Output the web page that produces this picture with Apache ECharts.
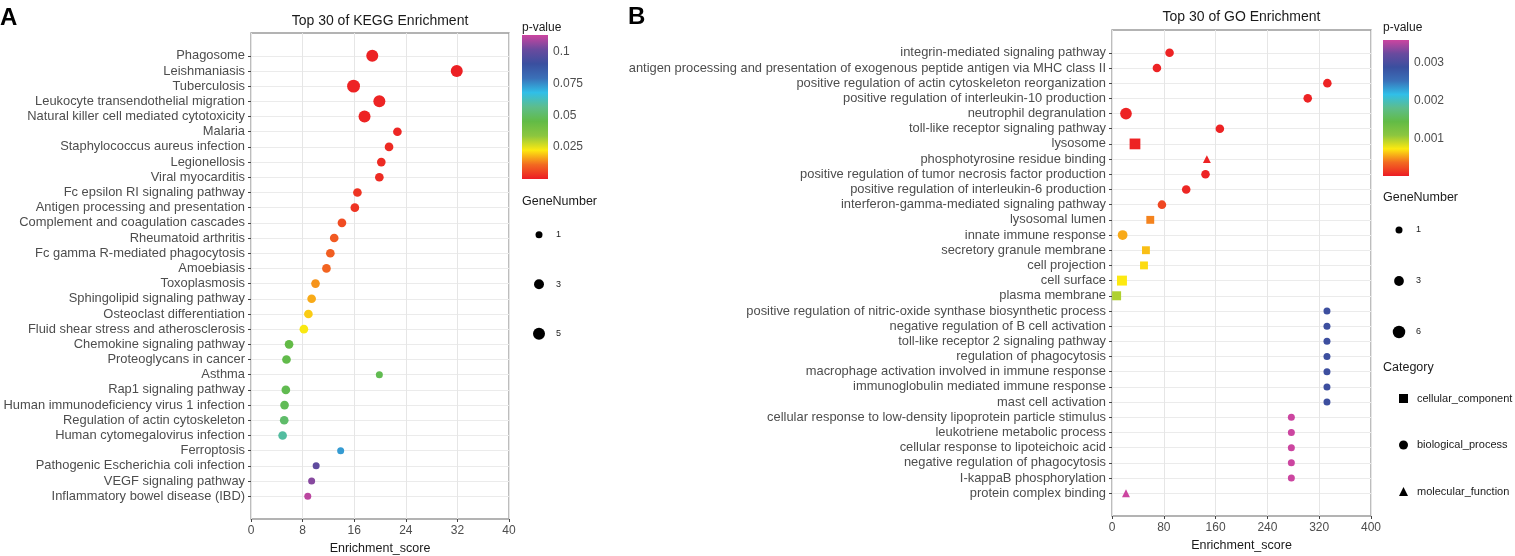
<!DOCTYPE html>
<html>
<head>
<meta charset="utf-8">
<script src="https://cdn.jsdelivr.net/npm/echarts@6/dist/echarts.min.js"></script>
<style>
html, body { margin: 0; padding: 0; background: #fff; }
#chart { width: 1515px; height: 556px; }
</style>
</head>
<body>
<div id="chart"></div>
<script>
var chart = echarts.init(document.getElementById('chart'));

// panel A - KEGG
var keggTerms = ['Phagosome', 'Leishmaniasis', 'Tuberculosis', 'Leukocyte transendothelial migration',
    'Natural killer cell mediated cytotoxicity', 'Malaria', 'Staphylococcus aureus infection', 'Legionellosis',
    'Viral myocarditis', 'Fc epsilon RI signaling pathway', 'Antigen processing and presentation',
    'Complement and coagulation cascades', 'Rheumatoid arthritis', 'Fc gamma R-mediated phagocytosis',
    'Amoebiasis', 'Toxoplasmosis', 'Sphingolipid signaling pathway', 'Osteoclast differentiation',
    'Fluid shear stress and atherosclerosis', 'Chemokine signaling pathway', 'Proteoglycans in cancer',
    'Asthma', 'Rap1 signaling pathway', 'Human immunodeficiency virus 1 infection',
    'Regulation of actin cytoskeleton', 'Human cytomegalovirus infection', 'Ferroptosis',
    'Pathogenic Escherichia coli infection', 'VEGF signaling pathway', 'Inflammatory bowel disease (IBD)'];
var keggScore = [18.8, 31.9, 15.9, 19.9, 17.6, 22.7, 21.4, 20.2, 19.9, 16.5, 16.1, 14.1, 12.9, 12.3, 11.7,
    10.0, 9.4, 8.9, 8.2, 5.9, 5.5, 19.9, 5.4, 5.2, 5.15, 4.9, 13.9, 10.1, 9.4, 8.8];
var keggP = [0.0008, 0.0006, 0.001, 0.0012, 0.0012, 0.0015, 0.002, 0.0022, 0.0022, 0.0035, 0.0035, 0.007,
    0.009, 0.0096, 0.0105, 0.015, 0.017, 0.02, 0.023, 0.045, 0.046, 0.047, 0.047, 0.048, 0.051, 0.059,
    0.073, 0.099, 0.105, 0.111];
var keggGenes = [5, 5, 6, 5, 5, 2, 2, 2, 2, 2, 2, 2, 2, 2, 2, 2, 2, 2, 2, 2, 2, 1, 2, 2, 2, 2, 1, 1, 1, 1];
var keggPTicks = [0.025, 0.05, 0.075, 0.1];
var keggPMax = 0.113;
var keggSizeBreaks = ['1', '3', '5'];

// panel B - GO
var goTerms = ['integrin-mediated signaling pathway',
    'antigen processing and presentation of exogenous peptide antigen via MHC class II',
    'positive regulation of actin cytoskeleton reorganization', 'positive regulation of interleukin-10 production',
    'neutrophil degranulation', 'toll-like receptor signaling pathway', 'lysosome',
    'phosphotyrosine residue binding', 'positive regulation of tumor necrosis factor production',
    'positive regulation of interleukin-6 production', 'interferon-gamma-mediated signaling pathway',
    'lysosomal lumen', 'innate immune response', 'secretory granule membrane', 'cell projection',
    'cell surface', 'plasma membrane', 'positive regulation of nitric-oxide synthase biosynthetic process',
    'negative regulation of B cell activation', 'toll-like receptor 2 signaling pathway',
    'regulation of phagocytosis', 'macrophage activation involved in immune response',
    'immunoglobulin mediated immune response', 'mast cell activation',
    'cellular response to low-density lipoprotein particle stimulus', 'leukotriene metabolic process',
    'cellular response to lipoteichoic acid', 'negative regulation of phagocytosis',
    'I-kappaB phosphorylation', 'protein complex binding'];
var goScore = [88.9, 69.4, 332.6, 302.3, 21.6, 166.6, 35.5, 146.5, 144.4, 114.6, 77.1, 59.1, 16.4, 52.4,
    49.4, 15.4, 7.1, 332, 332, 332, 332, 332, 332, 332, 277, 277, 277, 277, 277, 21.6];
var goP = [0.00003, 0.00003, 0.00003, 0.00003, 0.00003, 0.00003, 0.00003, 0.00003, 0.00003, 0.00005,
    0.0002, 0.00043, 0.00054, 0.0006, 0.00068, 0.00072, 0.00097, 0.0029, 0.0029, 0.0029, 0.0029, 0.0029,
    0.0029, 0.0029, 0.0036, 0.0036, 0.0036, 0.0036, 0.0036, 0.0036];
var goGenes = [2, 2, 2, 2, 5, 2, 5, 2, 2, 2, 2, 2, 3, 2, 2, 4, 3, 1, 1, 1, 1, 1, 1, 1, 1, 1, 1, 1, 1, 2];
var goCategory = ['BP', 'BP', 'BP', 'BP', 'BP', 'BP', 'CC', 'MF', 'BP', 'BP', 'BP', 'CC', 'BP', 'CC', 'CC',
    'CC', 'CC', 'BP', 'BP', 'BP', 'BP', 'BP', 'BP', 'BP', 'BP', 'BP', 'BP', 'BP', 'BP', 'MF'];
var goCategoryNames = { CC: 'cellular_component', BP: 'biological_process', MF: 'molecular_function' };
var goCategorySymbols = { CC: 'rect', BP: 'circle', MF: 'triangle' };
var goPTicks = [0.001, 0.002, 0.003];
var goPMax = 0.0036;
var goSizeBreaks = ['1', '3', '6'];

var rainbow = ['#ec1c24', '#f26a21', '#fde910', '#8cc63f', '#62bb46', '#5dbd8c', '#30bfe8',
    '#3a70b8', '#3a4f9f', '#6a4a9e', '#cc45a0'];
var FONT = 'Liberation Sans, Arial, sans-serif';

function keggSize(n) { return 7 + (Math.sqrt(n) - 1) / (Math.sqrt(5) - 1) * 5; }
function goSize(n) { return 7 + (Math.sqrt(n) - 1) / (Math.sqrt(6) - 1) * 5.5; }

function padCats(list) { return [' '].concat(list, ['  ']); }
function realCat(i, v) { return v.trim() !== ''; }

function tickFormatter(ticks) {
    return function (v) {
        for (var i = 0; i < ticks.length; i++) {
            if (Math.abs(v - ticks[i]) < ticks[0] * 1e-3) return String(ticks[i]);
        }
        return '';
    };
}

function gradient() {
    return new echarts.graphic.LinearGradient(0, 1, 0, 0, rainbow.map(function (c, i) {
        return { offset: i / (rainbow.length - 1), color: c };
    }));
}

function catYAxis(grid, terms) {
    return {
        gridIndex: grid, type: 'category', inverse: true, data: padCats(terms),
        axisLine: { show: false },
        axisTick: { show: true, alignWithLabel: true, length: 3, interval: realCat, lineStyle: { color: '#444' } },
        axisLabel: { interval: 0, fontSize: 12.9, color: '#4d4d4d', margin: 6, fontFamily: FONT },
        splitLine: { show: true, alignWithLabel: true, interval: realCat, lineStyle: { color: '#ebebeb' } }
    };
}

function scoreXAxis(grid, max, step) {
    return {
        gridIndex: grid, type: 'value', min: 0, max: max, interval: step,
        axisLine: { show: false },
        axisTick: { show: true, length: 3, lineStyle: { color: '#444' } },
        axisLabel: { fontSize: 12, color: '#4d4d4d', margin: 6, fontFamily: FONT },
        splitLine: { show: true, lineStyle: { color: '#e6e6e6' } },
        name: 'Enrichment_score', nameLocation: 'middle', nameGap: 22,
        nameTextStyle: { fontSize: 12.5, color: '#1a1a1a', fontFamily: FONT }
    };
}

function barAxes(grid, max, step, ticks) {
    return {
        x: { gridIndex: grid, type: 'category', data: ['p'], show: false },
        y: {
            gridIndex: grid, type: 'value', min: 0, max: max, interval: step, position: 'right',
            axisLine: { show: false }, splitLine: { show: false },
            axisTick: { show: true, inside: true, length: 5, lineStyle: { color: '#fff' } },
            axisLabel: { fontSize: 12, color: '#4d4d4d', margin: 5, fontFamily: FONT, formatter: tickFormatter(ticks) }
        }
    };
}

function sizeAxes(grid, breaks) {
    return {
        x: { gridIndex: grid, type: 'value', min: -1, max: 1, show: false },
        y: {
            gridIndex: grid, type: 'category', inverse: true, data: breaks, position: 'right',
            axisLine: { show: false }, axisTick: { show: false }, splitLine: { show: false },
            axisLabel: { fontSize: 9, color: '#1a1a1a', margin: 11, fontFamily: FONT }
        }
    };
}

var keggData = keggTerms.map(function (t, i) { return [keggScore[i], t, keggP[i], keggGenes[i]]; });

var goSeries = ['CC', 'BP', 'MF'].map(function (c) {
    var data = [];
    goTerms.forEach(function (t, i) {
        if (goCategory[i] === c) data.push([goScore[i], t, goP[i], goGenes[i]]);
    });
    return {
        name: goCategoryNames[c], type: 'scatter', xAxisIndex: 1, yAxisIndex: 1,
        symbol: goCategorySymbols[c], itemStyle: { opacity: 1 },
        symbolSize: function (v) { return goSize(v[3]) * (c === 'BP' ? 1 : 0.92); },
        data: data
    };
});

var cb1 = barAxes(2, keggPMax, 0.025, keggPTicks);
var cb2 = barAxes(3, goPMax, 0.001, goPTicks);
var sz1 = sizeAxes(4, keggSizeBreaks);
var sz2 = sizeAxes(5, goSizeBreaks);

function textEl(x, y, text, size, weight, align, color) {
    return {
        type: 'text', x: x, y: y, silent: true,
        style: {
            text: text, fontSize: size, fontWeight: weight || 'normal', fontFamily: FONT,
            fill: color || '#1a1a1a', align: align || 'left', verticalAlign: 'middle'
        }
    };
}

function gridBox(left, top, width, height, framed) {
    var g = { left: left, top: top, width: width, height: height, outerBoundsMode: 'none', containLabel: false };
    if (framed) { g.show = true; g.borderColor = '#9a9a9a'; g.borderWidth = 1.3; }
    return g;
}

var option = {
    animation: false,
    backgroundColor: '#fff',
    textStyle: { fontFamily: FONT },
    grid: [
        gridBox(251, 33, 258, 486, true),
        gridBox(1112, 30, 259, 486, true),
        gridBox(522, 35, 26, 144),
        gridBox(1383, 40, 26, 136),
        gridBox(533, 210, 12, 148.5),
        gridBox(1393, 204.5, 12, 153)
    ],
    xAxis: [scoreXAxis(0, 40, 8), scoreXAxis(1, 400, 80), cb1.x, cb2.x, sz1.x, sz2.x],
    yAxis: [catYAxis(0, keggTerms), catYAxis(1, goTerms), cb1.y, cb2.y, sz1.y, sz2.y],
    visualMap: [
        { show: false, type: 'continuous', seriesIndex: 0, dimension: 2, min: 0, max: keggPMax,
          inRange: { color: rainbow } },
        { show: false, type: 'continuous', seriesIndex: [1, 2, 3], dimension: 2, min: 0, max: goPMax,
          inRange: { color: rainbow } }
    ],
    legend: {
        orient: 'vertical', left: 1394, top: 388, itemWidth: 9, itemHeight: 9, itemGap: 35.5,
        selectedMode: false,
        textStyle: { fontSize: 11, color: '#1a1a1a', fontFamily: FONT, padding: [0, 0, 0, 4] },
        data: [
            { name: 'cellular_component', icon: 'rect', itemStyle: { color: '#000', opacity: 1 } },
            { name: 'biological_process', icon: 'circle', itemStyle: { color: '#000', opacity: 1 } },
            { name: 'molecular_function', icon: 'triangle', itemStyle: { color: '#000', opacity: 1 } }
        ]
    },
    graphic: [
        textEl(0, 18, 'A', 24, 'bold', 'left', '#000'),
        textEl(628, 17, 'B', 24, 'bold', 'left', '#000'),
        textEl(380, 21, 'Top 30 of KEGG Enrichment', 14, 'normal', 'center'),
        textEl(1241.5, 17, 'Top 30 of GO Enrichment', 14, 'normal', 'center'),
        textEl(522, 28, 'p-value', 12),
        textEl(522, 202, 'GeneNumber', 12.5),
        textEl(1383, 28, 'p-value', 12),
        textEl(1383, 198, 'GeneNumber', 12.5),
        textEl(1383, 368, 'Category', 12.5)
    ],
    series: [
        {
            name: 'KEGG', type: 'scatter', xAxisIndex: 0, yAxisIndex: 0, itemStyle: { opacity: 1 },
            symbolSize: function (v) { return keggSize(v[3]); },
            data: keggData
        }
    ].concat(goSeries, [
        {
            type: 'bar', xAxisIndex: 2, yAxisIndex: 2, barWidth: '100%', silent: true,
            data: [keggPMax], itemStyle: { color: gradient() }
        },
        {
            type: 'bar', xAxisIndex: 3, yAxisIndex: 3, barWidth: '100%', silent: true,
            data: [goPMax], itemStyle: { color: gradient() }
        },
        {
            type: 'scatter', xAxisIndex: 4, yAxisIndex: 4, silent: true, itemStyle: { color: '#000', opacity: 1 },
            symbolSize: function (v) { return keggSize(Number(v[1])); },
            data: keggSizeBreaks.map(function (b) { return [0, b]; })
        },
        {
            type: 'scatter', xAxisIndex: 5, yAxisIndex: 5, silent: true, itemStyle: { color: '#000', opacity: 1 },
            symbolSize: function (v) { return goSize(Number(v[1])); },
            data: goSizeBreaks.map(function (b) { return [0, b]; })
        }
    ])
};
chart.setOption(option);
</script>
</body>
</html>
